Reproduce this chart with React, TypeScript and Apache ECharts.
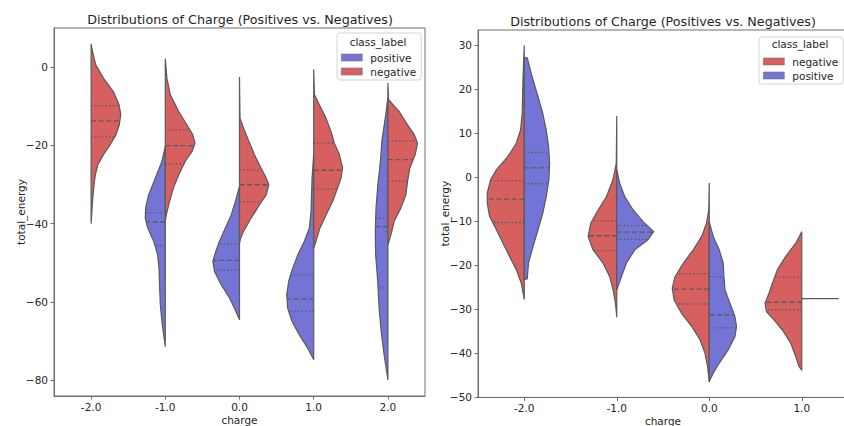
import React, { useEffect, useRef } from 'react';
import * as echarts from 'echarts';

// ---------- data ----------
const leftCategories = ['-2.0', '-1.0', '0.0', '1.0', '2.0'];
const rightCategories = ['-2.0', '-1.0', '0.0', '1.0'];
const leftYTicks = [-80, -60, -40, -20, 0];
const rightYTicks = [-50, -40, -30, -20, -10, 0, 10, 20, 30];

// violin half profiles: [total_energy, half width as fraction of category band]
const leftNegM2 = [[5.8, 0], [3.9, 0.02], [2.2, 0.04], [0.5, 0.063], [-2.9, 0.166], [-6.3, 0.3], [-9.7, 0.377], [-12.2, 0.4], [-14.8, 0.38], [-17.3, 0.337], [-19.9, 0.256], [-22.4, 0.166], [-25.0, 0.09], [-27.5, 0.058], [-29.2, 0.045], [-32.6, 0.027], [-36.0, 0.013], [-39.9, 0]];
const leftNegM1 = [[2.0, 0], [-2.9, 0.022], [-7.1, 0.067], [-11.4, 0.18], [-14.8, 0.29], [-17.3, 0.37], [-19.5, 0.4], [-21.6, 0.36], [-24.1, 0.27], [-27.6, 0.18], [-30.9, 0.11], [-34.3, 0.058], [-37.8, 0.013], [-39.4, 0]];
const leftPosM1 = [[-20.3, 0], [-24.1, 0.045], [-28.4, 0.135], [-32.7, 0.225], [-36.0, 0.265], [-38.6, 0.27], [-41.1, 0.238], [-44.5, 0.157], [-48.0, 0.103], [-51.4, 0.085], [-56.5, 0.076], [-60.7, 0.067], [-65.0, 0.045], [-68.4, 0.022], [-71.3, 0]];
const leftNeg0 = [[-2.7, 0], [-13.1, 0.007], [-15.6, 0.054], [-19.0, 0.126], [-22.4, 0.2], [-25.8, 0.29], [-28.4, 0.36], [-30.1, 0.395], [-32.7, 0.36], [-35.2, 0.27], [-38.6, 0.157], [-42.0, 0.054], [-44.1, 0.01], [-45.0, 0]];
const leftPos0 = [[-30.5, 0], [-34.3, 0.054], [-37.8, 0.112], [-41.1, 0.19], [-44.5, 0.27], [-47.1, 0.32], [-49.6, 0.36], [-52.2, 0.337], [-55.6, 0.247], [-59.0, 0.135], [-61.6, 0.067], [-64.1, 0.01], [-64.5, 0]];
const leftNeg1 = [[-0.8, 0], [-7.1, 0.01], [-9.7, 0.076], [-13.1, 0.166], [-16.5, 0.233], [-19.5, 0.278], [-22.4, 0.346], [-25.8, 0.39], [-28.4, 0.368], [-30.9, 0.323], [-34.3, 0.256], [-37.8, 0.166], [-41.1, 0.085], [-44.5, 0.031], [-46.3, 0]];
const leftPos1 = [[-22.4, 0], [-28.4, 0.022], [-36.9, 0.036], [-41.1, 0.058], [-44.5, 0.126], [-48.0, 0.215], [-51.4, 0.283], [-54.7, 0.337], [-58.2, 0.364], [-61.6, 0.35], [-65.0, 0.292], [-68.4, 0.193], [-71.8, 0.081], [-74.7, 0]];
const leftNeg2 = [[-4.2, 0], [-8.4, 0.01], [-9.7, 0.07], [-11.4, 0.152], [-14.8, 0.265], [-17.3, 0.355], [-19.5, 0.4], [-22.4, 0.368], [-25.8, 0.296], [-29.2, 0.265], [-32.7, 0.242], [-36.0, 0.175], [-39.4, 0.085], [-42.9, 0.04], [-45.4, 0]];
const leftPos2 = [[-7.7, 0], [-12.0, 0.027], [-18.7, 0.08], [-24.0, 0.1], [-30.0, 0.135], [-36.0, 0.16], [-42.0, 0.17], [-48.0, 0.165], [-54.0, 0.14], [-62.0, 0.117], [-68.0, 0.088], [-74.0, 0.047], [-79.8, 0]];

const rightNegM2 = [[29.8, 0], [22.1, 0.014], [14.5, 0.022], [10.7, 0.04], [7.7, 0.086], [4.7, 0.176], [1.7, 0.3], [-0.6, 0.364], [-3.6, 0.4], [-5.9, 0.4], [-8.9, 0.375], [-12.0, 0.3], [-15.0, 0.23], [-18.0, 0.159], [-21.0, 0.086], [-24.1, 0.032], [-27.7, 0]];
const rightPosM2 = [[27.2, 0], [27.1, 0.032], [22.1, 0.094], [18.3, 0.148], [14.5, 0.2], [10.7, 0.238], [7.0, 0.263], [3.2, 0.274], [-0.6, 0.267], [-4.4, 0.238], [-8.2, 0.2], [-12.0, 0.148], [-15.8, 0.094], [-19.5, 0.046], [-23.1, 0.032], [-23.2, 0]];
const rightNegM1 = [[13.8, 0], [3.2, 0.005], [-0.6, 0.04], [-4.4, 0.111], [-7.4, 0.2], [-10.4, 0.28], [-13.5, 0.31], [-16.5, 0.256], [-19.5, 0.148], [-22.6, 0.076], [-25.6, 0.04], [-28.6, 0.014], [-31.7, 0]];
const rightPosM1 = [[1.7, 0], [-1.4, 0.032], [-4.4, 0.086], [-7.4, 0.176], [-10.1, 0.284], [-12.4, 0.4], [-14.2, 0.338], [-16.5, 0.195], [-19.5, 0.105], [-22.6, 0.05], [-25.6, 0]];
const rightNeg0 = [[-1.4, 0], [-7.4, 0.005], [-10.4, 0.029], [-13.5, 0.083], [-16.5, 0.173], [-19.5, 0.28], [-22.6, 0.37], [-25.2, 0.4], [-27.9, 0.38], [-30.9, 0.3], [-33.9, 0.19], [-36.9, 0.1], [-40.0, 0.046], [-43.0, 0.018], [-46.4, 0]];
const rightPos0 = [[-10.1, 0], [-13.5, 0.043], [-16.5, 0.108], [-19.5, 0.151], [-22.6, 0.159], [-25.6, 0.17], [-28.6, 0.224], [-31.7, 0.278], [-33.9, 0.295], [-36.2, 0.278], [-39.2, 0.205], [-42.2, 0.108], [-44.5, 0.043], [-46.4, 0]];
const rightNeg1 = [[-12.4, 0], [-15.0, 0.065], [-18.0, 0.173], [-21.0, 0.263], [-24.1, 0.317], [-26.3, 0.353], [-28.6, 0.397], [-30.5, 0.382], [-32.4, 0.3], [-34.7, 0.209], [-37.7, 0.119], [-40.7, 0.065], [-43.0, 0.029], [-43.8, 0]];
const rightPos1 = [[-27.6, 0.4]];

// quartiles: [Q1, median, Q3]
const leftNegQuart = [[-17.9, -13.8, -9.9], [-24.8, -20.1, -16.1], [-34.4, -30.1, -26.3], [-31.2, -26.4, -19.5], [-29.2, -23.7, -18.9]];
const leftPosQuart = [null, [-45.6, -39.6, -37.2], [-51.9, -49.4, -45.2], [-62.4, -59.2, -53.1], [-56.4, -40.8, -38.7]];
const rightNegQuart = [[-10.3, -5.0, -0.8], [-16.7, -13.3, -9.9], [-28.8, -25.4, -21.9], [-30.1, -28.4, -22.7]];
const rightPosQuart = [[-1.5, 2.1, 5.6], [-14.1, -12.5, -11.0], [-34.2, -31.3, -22.6], null];

const leftNegProfiles = [leftNegM2, leftNegM1, leftNeg0, leftNeg1, leftNeg2];
const leftPosProfiles = [null, leftPosM1, leftPos0, leftPos1, leftPos2];
const rightNegProfiles = [rightNegM2, rightNegM1, rightNeg0, rightNeg1];
const rightPosProfiles = [rightPosM2, rightPosM1, rightPos0, rightPos1];

// ---------- style ----------
const FONT = 'DejaVu Sans';
const RED = '#D65F5F';
const BLUE = '#7474D6';
const EDGE = '#5a5a5a';
const AX = '#6e6e6e';
const TXT = '#262626';

function halfWidthAt(prof: number[][], v: number) {
  for (let i = 0; i < prof.length - 1; i++) {
    const [v0, w0] = prof[i];
    const [v1, w1] = prof[i + 1];
    if ((v <= v0 && v >= v1) || (v >= v0 && v <= v1)) {
      const t = v0 === v1 ? 0 : (v - v0) / (v1 - v0);
      return w0 + t * (w1 - w0);
    }
  }
  return 0;
}

function violinSeries(name: string, color: string, gi: number, profiles: any[], quarts: any[], side: number) {
  return {
    type: 'custom',
    name,
    xAxisIndex: gi,
    yAxisIndex: gi,
    itemStyle: { color },
    silent: true,
    z: 2,
    encode: { x: 0, y: 1 },
    data: profiles.map((p, i) => (p ? [i, p[0][0]] : null)).filter(Boolean),
    renderItem: (params: any, api: any) => {
      const ci = api.value(0);
      const prof = profiles[ci];
      const band = api.size([1, 0])[0];
      const cx = api.coord([ci, 0])[0];
      const yOf = (v: number) => api.coord([ci, v])[1];
      const children: any[] = [];
      if (prof.length === 1) {
        const y = yOf(prof[0][0]);
        children.push({
          type: 'line',
          shape: { x1: cx, y1: y, x2: cx + side * prof[0][1] * band, y2: y },
          style: { stroke: EDGE, lineWidth: 1.3 },
        });
        return { type: 'group', children };
      }
      const pts: number[][] = [[cx, yOf(prof[0][0])]];
      prof.forEach(([v, w]: number[]) => pts.push([cx + side * w * band, yOf(v)]));
      pts.push([cx, yOf(prof[prof.length - 1][0])]);
      children.push({
        type: 'polygon',
        shape: { points: pts },
        style: { fill: color, stroke: EDGE, lineWidth: 1.2, lineJoin: 'round' },
      });
      const q = quarts[ci];
      if (q) {
        q.forEach((v: number, k: number) => {
          const w = halfWidthAt(prof, v);
          const y = yOf(v);
          children.push({
            type: 'line',
            shape: { x1: cx, y1: y, x2: cx + side * w * band, y2: y },
            style: {
              stroke: EDGE,
              lineWidth: 1.3,
              lineDash: k === 1 ? [5, 2.6] : [1.4, 2.2],
            },
          });
        });
      }
      return { type: 'group', children };
    },
  };
}

const txt = { fontFamily: FONT, fontSize: 10.5, color: TXT };
const fmtY = (v: number) => (v < 0 ? '\u2212' + Math.abs(v) : String(v));

function xAxisFor(gi: number, cats: string[]) {
  return {
    type: 'category',
    gridIndex: gi,
    data: cats,
    boundaryGap: true,
    axisLine: { show: true, onZero: false, lineStyle: { color: AX, width: 1 } },
    axisTick: { show: true, alignWithLabel: true, length: 3.5, lineStyle: { color: AX } },
    axisLabel: { ...txt, margin: 5 },
    splitLine: { show: false },
    name: 'charge',
    nameLocation: 'middle',
    nameGap: 18,
    nameMoveOverlap: false,
    nameTextStyle: txt,
  };
}

function yAxisFor(gi: number, min: number, max: number, ticks: number[]) {
  return {
    type: 'value',
    gridIndex: gi,
    min,
    max,
    axisLine: { show: true, onZero: false, lineStyle: { color: AX, width: 1 } },
    axisTick: { show: true, length: 3.5, lineStyle: { color: AX }, customValues: ticks },
    axisLabel: { ...txt, margin: 6, customValues: ticks, formatter: fmtY },
    splitLine: { show: false },
    name: 'total_energy',
    nameLocation: 'middle',
    nameGap: 28,
    nameRotate: 90,
    nameMoveOverlap: false,
    nameTextStyle: txt,
  };
}

function legendFor(data: string[], left: number, top: number) {
  return {
    data,
    left,
    top,
    orient: 'vertical',
    icon: 'rect',
    itemWidth: 21,
    itemHeight: 7,
    itemGap: 3,
    padding: [19, 5, 3, 4],
    borderColor: '#d4d4d4',
    borderWidth: 1,
    borderRadius: 3,
    backgroundColor: 'rgba(255,255,255,0.85)',
    selectedMode: false,
    itemStyle: { borderColor: '#777', borderWidth: 0.6 },
    textStyle: { ...txt, padding: [0, 0, 0, 3] },
  };
}

const title = 'Distributions of Charge (Positives vs. Negatives)';

const option = {
  animation: false,
  backgroundColor: '#ffffff',
  grid: [
    { left: 54, top: 28, width: 371, height: 368, show: true, borderColor: AX, borderWidth: 1, outerBoundsMode: 'none', containLabel: false },
    { left: 478, top: 30, width: 370, height: 367.4, show: true, borderColor: AX, borderWidth: 1, outerBoundsMode: 'none', containLabel: false },
  ],
  xAxis: [xAxisFor(0, leftCategories), xAxisFor(1, rightCategories)],
  yAxis: [yAxisFor(0, -84, 9.9, leftYTicks), yAxisFor(1, -50, 33.4, rightYTicks)],
  legend: [legendFor(['positive', 'negative'], 337, 33), legendFor(['negative', 'positive'], 759, 37)],
  graphic: [
    { type: 'text', x: 240, y: 19, z: 100, style: { text: title, font: `12.7px "${FONT}"`, fill: TXT, textAlign: 'center', textVerticalAlign: 'middle' } },
    { type: 'text', x: 663, y: 21, z: 100, style: { text: title, font: `12.7px "${FONT}"`, fill: TXT, textAlign: 'center', textVerticalAlign: 'middle' } },
    { type: 'text', x: 378, y: 42, z: 100, style: { text: 'class_label', font: `10.5px "${FONT}"`, fill: TXT, textAlign: 'center', textVerticalAlign: 'middle' } },
    { type: 'text', x: 800, y: 44, z: 100, style: { text: 'class_label', font: `10.5px "${FONT}"`, fill: TXT, textAlign: 'center', textVerticalAlign: 'middle' } },
  ],
  series: [
    violinSeries('positive', BLUE, 0, leftPosProfiles, leftPosQuart, -1),
    violinSeries('negative', RED, 0, leftNegProfiles, leftNegQuart, 1),
    violinSeries('negative', RED, 1, rightNegProfiles, rightNegQuart, -1),
    violinSeries('positive', BLUE, 1, rightPosProfiles, rightPosQuart, 1),
  ],
};

export default function App() {
  const ref = useRef<HTMLDivElement>(null);
  useEffect(() => {
    document.body.style.margin = '0';
    const chart = echarts.init(ref.current as HTMLDivElement, null, { renderer: 'svg' });
    chart.setOption(option as any);
    return () => chart.dispose();
  }, []);
  return <div ref={ref} style={{ width: 844, height: 426 }} />;
}
